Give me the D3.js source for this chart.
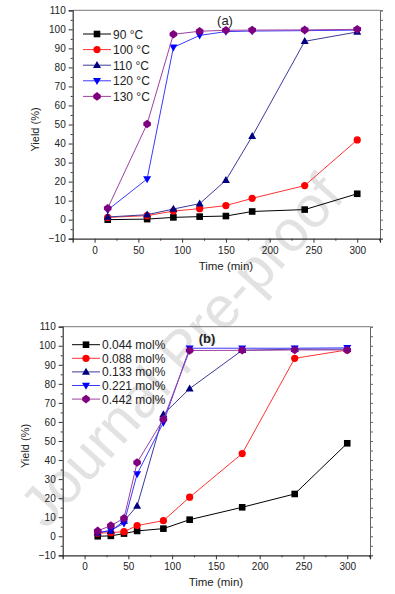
<!DOCTYPE html>
<html><head><meta charset="utf-8">
<script src="https://cdn.jsdelivr.net/npm/d3@7"></script>
<style>html,body{margin:0;padding:0;background:#fff;}svg{display:block;}</style>
</head><body>
<svg id="c" width="395" height="594"></svg>
<script>
// ---------- data ----------
const timesA = [15, 60, 90, 120, 150, 180, 240, 300];
const labelsA = ["90 \u00B0C", "100 \u00B0C", "110 \u00B0C", "120 \u00B0C", "130 \u00B0C"];
const yA90  = [0, 0.3, 1.2, 1.6, 1.9, 4.3, 5.3, 13.6];
const yA100 = [1.2, 2.1, 4.5, 5.8, 7.4, 11.2, 17.9, 41.9];
const yA110 = [1.4, 2.6, 5.6, 8.4, 20.7, 43.8, 93.7, 98.6];
const yA120 = [5.1, 21.4, 90.5, 96.8, 98.8, 99.1, 99.3, 99.6];
const yA130 = [6.0, 50.3, 97.4, 99.0, 99.5, 99.6, 99.7, 100];

const timesB = [15, 30, 45, 60, 90, 120, 180, 240, 300];
const labelsB = ["0.044 mol%", "0.088 mol%", "0.133 mol%", "0.221 mol%", "0.442 mol%"];
const yB044 = [0, 0.2, 1.4, 2.8, 4.0, 8.7, 15.2, 22.2, 48.8];
const yB088 = [1.6, 1.9, 2.4, 5.6, 8.2, 20.5, 43.4, 93.4, 97.8];
const yB133 = [1.9, 2.8, 8.0, 15.9, 64.0, 77.5, 97.6, 98.2, 98.2];
const yB221 = [1.9, 3.1, 6.8, 32.7, 59.7, 98.7, 98.7, 98.7, 98.9];
const yB442 = [2.8, 5.6, 9.4, 38.7, 61.4, 97.5, 97.6, 97.8, 97.8];

const xTicks = [0, 50, 100, 150, 200, 250, 300];
const yTicks = [-10, 0, 10, 20, 30, 40, 50, 60, 70, 80, 90, 100, 110];

// ---------- styles ----------
const colors = ["#000000", "#ff0000", "#00007f", "#0000ff", "#7f007f"];
const lineColors = ["#000000", "#ff3333", "#3a3a9a", "#3a3aff", "#a040a0"];
const shapes = ["square", "circle", "tri", "tridown", "diamond"];
const FONT = "'Liberation Sans', Arial, sans-serif";

const svg = d3.select("#c");

function marker(g, shape, x, y, color) {
  const s = 3.3;
  let el;
  if (shape === "square") {
    el = g.append("rect").attr("x", x - s).attr("y", y - s).attr("width", 2 * s).attr("height", 2 * s);
  } else if (shape === "circle") {
    el = g.append("circle").attr("cx", x).attr("cy", y).attr("r", 3.6);
  } else if (shape === "tri") {
    el = g.append("path").attr("d", `M${x},${y - 4.2}L${x + 4},${y + 2.8}L${x - 4},${y + 2.8}Z`);
  } else if (shape === "tridown") {
    el = g.append("path").attr("d", `M${x},${y + 4.2}L${x + 4},${y - 2.8}L${x - 4},${y - 2.8}Z`);
  } else {
    el = g.append("path").attr("d", `M${x},${y - 4.3}L${x + 3.8},${y - 1.5}L${x + 3.8},${y + 1.5}L${x},${y + 4.3}L${x - 3.8},${y + 1.5}L${x - 3.8},${y - 1.5}Z`);
  }
  el.attr("fill", color).attr("stroke", "none");
}

function panel(cfg) {
  const x = d3.scaleLinear().domain([-25, 326]).range([cfg.left, cfg.right]);
  const y = d3.scaleLinear().domain([-10, 110]).range([cfg.bottom, cfg.top]);
  const g = svg.append("g");

  // frame top
  g.append("line").attr("x1", cfg.left).attr("x2", cfg.right).attr("y1", cfg.top).attr("y2", cfg.top)
    .attr("stroke", "#777").attr("stroke-width", 1);
  // right axis with ticks outward
  const ra = g.append("g").attr("transform", `translate(${cfg.right},0)`)
    .call(d3.axisRight(y).tickValues(d3.range(-10, 111, 5)).tickSize(3).tickFormat(""));
  ra.select(".domain").attr("stroke", "#666");
  ra.selectAll(".tick line").attr("stroke", "#666");

  // bottom axis
  const ba = g.append("g").attr("transform", `translate(0,${cfg.bottom})`)
    .call(d3.axisBottom(x).tickValues(xTicks).tickSize(4).tickPadding(4).tickFormat(d3.format("d")));
  ba.select(".domain").attr("stroke", "#333").attr("stroke-width", 1.2);
  ba.selectAll(".tick line").attr("stroke", "#333");
  ba.selectAll("text").attr("font-family", FONT).attr("font-size", 10).attr("fill", "#222");
  const bm = g.append("g").attr("transform", `translate(0,${cfg.bottom})`)
    .call(d3.axisBottom(x).tickValues([-25, 25, 75, 125, 175, 225, 275, 325]).tickSize(2).tickFormat(""));
  bm.select(".domain").remove();
  bm.selectAll(".tick line").attr("stroke", "#333");

  // left axis
  const la = g.append("g").attr("transform", `translate(${cfg.left},0)`)
    .call(d3.axisLeft(y).tickValues(yTicks).tickSize(4).tickPadding(3).tickFormat(d3.format("d")));
  la.select(".domain").attr("stroke", "#333").attr("stroke-width", 1.2);
  la.selectAll(".tick line").attr("stroke", "#333");
  la.selectAll("text").attr("font-family", FONT).attr("font-size", 10).attr("fill", "#222");
  const lm = g.append("g").attr("transform", `translate(${cfg.left},0)`)
    .call(d3.axisLeft(y).tickValues(d3.range(-5, 110, 10)).tickSize(2).tickFormat(""));
  lm.select(".domain").remove();
  lm.selectAll(".tick line").attr("stroke", "#333");

  // axis titles
  g.append("text").attr("x", (x(0) + x(300)) / 2).attr("y", cfg.bottom + 31)
    .attr("text-anchor", "middle").attr("font-family", FONT).attr("font-size", 11.5).attr("fill", "#222")
    .text("Time (min)");
  g.append("text").attr("transform", `translate(${cfg.left - 34},${(cfg.top + cfg.bottom) / 2 + 5}) rotate(-90)`)
    .attr("text-anchor", "middle").attr("font-family", FONT).attr("font-size", 11).attr("fill", "#222")
    .text("Yield (%)");

  // panel label
  g.append("text").attr("x", cfg.labelX).attr("y", cfg.labelY).attr("text-anchor", "middle")
    .attr("font-family", FONT).attr("font-size", 13).attr("font-weight", cfg.labelBold ? "bold" : "normal")
    .attr("fill", "#222").text(cfg.label);

  // series
  const line = d3.line().x(d => x(d[0])).y(d => y(d[1]));
  cfg.series.forEach((vals, i) => {
    const pts = cfg.times.map((t, k) => [t, vals[k]]);
    g.append("path").attr("d", line(pts)).attr("fill", "none")
      .attr("stroke", lineColors[i]).attr("stroke-width", 1);
    const mg = g.append("g");
    pts.forEach(p => marker(mg, shapes[i], x(p[0]), y(p[1]), colors[i]));
  });

  // legend
  const lg = g.append("g");
  cfg.labels.forEach((lab, i) => {
    const yy = cfg.legY + i * cfg.legStep;
    lg.append("line").attr("x1", cfg.legX0).attr("x2", cfg.legX1).attr("y1", yy).attr("y2", yy)
      .attr("stroke", lineColors[i]).attr("stroke-width", 1);
    marker(lg, shapes[i], (cfg.legX0 + cfg.legX1) / 2, yy, colors[i]);
    lg.append("text").attr("x", cfg.legX1 + 2).attr("y", yy + 4.5)
      .attr("font-family", FONT).attr("font-size", 12).attr("fill", "#222").text(lab);
  });
}

// watermark (behind)
svg.append("text")
  .attr("transform", "translate(196,364) rotate(-48)")
  .attr("text-anchor", "middle")
  .attr("font-family", FONT).attr("font-size", 58).attr("fill", "#e2e2e2")
  .text("Journal Pre-proof");

panel({
  left: 72.7, right: 380, top: 10.3, bottom: 238.7,
  times: timesA, series: [yA90, yA100, yA110, yA120, yA130], labels: labelsA,
  label: "(a)", labelX: 225, labelY: 25, labelBold: false,
  legX0: 83, legX1: 111, legY: 34, legStep: 15.6
});
panel({
  left: 62.7, right: 370, top: 326.7, bottom: 555.3,
  times: timesB, series: [yB044, yB088, yB133, yB221, yB442], labels: labelsB,
  label: "(b)", labelX: 207, labelY: 343, labelBold: true,
  legX0: 72, legX1: 100, legY: 344.7, legStep: 13.6
});
</script>
</body></html>
